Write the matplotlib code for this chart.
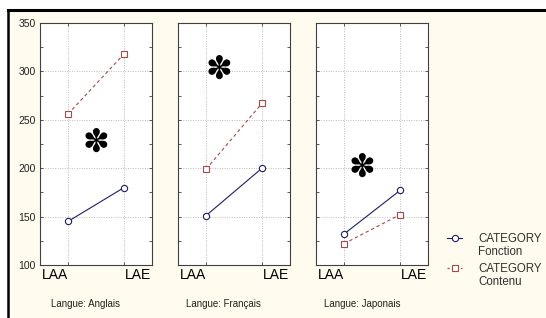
import matplotlib
matplotlib.use("Agg")
import matplotlib.pyplot as plt
from matplotlib.lines import Line2D
from matplotlib.patches import Rectangle
from matplotlib.ticker import MultipleLocator

# données
conditions = ["LAA", "LAE"]
langues = ["Langue: Anglais", "Langue: Français", "Langue: Japonais"]
fonction = [[145, 180], [151, 200], [132, 177]]
contenu = [[256, 318], [199, 267], [122, 152]]
# position des astérisques (x en indice de condition, y en valeur)
star_x = [0.5, 0.23, 0.32]
star_y = [226, 301, 200]

plt.rcParams.update({
    'font.family': ['Liberation Sans', 'DejaVu Sans'],
    'font.size': 7,
})

W, H = 546, 318
fig = plt.figure(figsize=(W / 100, H / 100), dpi=100, facecolor='white')

# fond crème + bord noir haut/gauche
bg = '#FFFBEE'
fig.patches.append(Rectangle((8 / W, 0), 1 - 8 / W, 1 - 10 / H, transform=fig.transFigure,
                             facecolor=bg, edgecolor='none', zorder=-10))
fig.add_artist(Line2D([8 / W, 1], [1 - 10 / H, 1 - 10 / H], transform=fig.transFigure,
                      color='black', lw=2.2))
fig.add_artist(Line2D([8 / W, 8 / W], [0, 1 - 10 / H], transform=fig.transFigure,
                      color='black', lw=1.8))

col_f = '#1c1c6a'
col_c = '#a84848'

lefts = [40, 178, 316]
for i, left in enumerate(lefts):
    ax = fig.add_axes([left / W, 53 / H, 112 / W, 242 / H])
    ax.set_facecolor('white')
    x = list(range(len(conditions)))
    ax.plot(x, fonction[i], '-', color=col_f, lw=0.8, marker='o', ms=4.5,
            mfc='white', mec=col_f, mew=0.8, zorder=3)
    ax.plot(x, contenu[i], color=col_c, lw=0.8, ls=(0, (3, 2.5)), marker='s', ms=4.5,
            mfc='white', mec=col_c, mew=0.8, zorder=3)
    ax.text(star_x[i], star_y[i], '\u273D', fontsize=23, ha='center', va='center',
            family='DejaVu Sans', color='black')

    ax.set_xlim(-0.5, 1.5)
    ax.set_ylim(100, 350)
    ax.set_xticks(x)
    ax.set_xticklabels([])
    ax.yaxis.set_major_locator(MultipleLocator(50))
    ax.yaxis.set_minor_locator(MultipleLocator(25))
    ax.tick_params(axis='both', which='both', direction='in', top=True, right=True,
                   length=2.5, width=0.6, color='#404040')
    ax.tick_params(axis='y', labelsize=7.5, pad=3, labelcolor='#202020')
    if i > 0:
        ax.set_yticklabels([])
    ax.grid(True, which='major', ls=(0, (1, 1.5)), color='#bcbcbc', lw=0.7)
    for s in ax.spines.values():
        s.set_color('#404040')
        s.set_linewidth(0.8)

    ax.text(0.02, -0.012, conditions[0], transform=ax.transAxes, ha='left', va='top',
            fontsize=10)
    ax.text(0.99, -0.012, conditions[1], transform=ax.transAxes, ha='right', va='top',
            fontsize=10)
    ax.text(0.41, -0.16, langues[i], transform=ax.transAxes, ha='center', va='center',
            fontsize=7, color='#202020')

# légende
legend_items = [("CATEGORY\nFonction", col_f, '-', 'o'),
                ("CATEGORY\nContenu", col_c, (0, (2, 2)), 's')]
for k, (lab, c, ls, mk) in enumerate(legend_items):
    yy = 1 - (238 + 30 * k) / H
    fig.add_artist(Line2D([447 / W, 462 / W], [yy, yy], transform=fig.transFigure,
                          color=c, lw=0.8, ls=ls, marker=None))
    fig.add_artist(Line2D([454.5 / W], [yy], transform=fig.transFigure, color=c,
                          marker=mk, ms=4.5, mfc='white', mec=c, mew=0.8))
    fig.text(478 / W, yy + 5.5 / H, lab, ha='left', va='top', fontsize=8.3,
             color='#303030', linespacing=1.15)

fig.savefig('out.png', dpi=100, facecolor=fig.get_facecolor())
